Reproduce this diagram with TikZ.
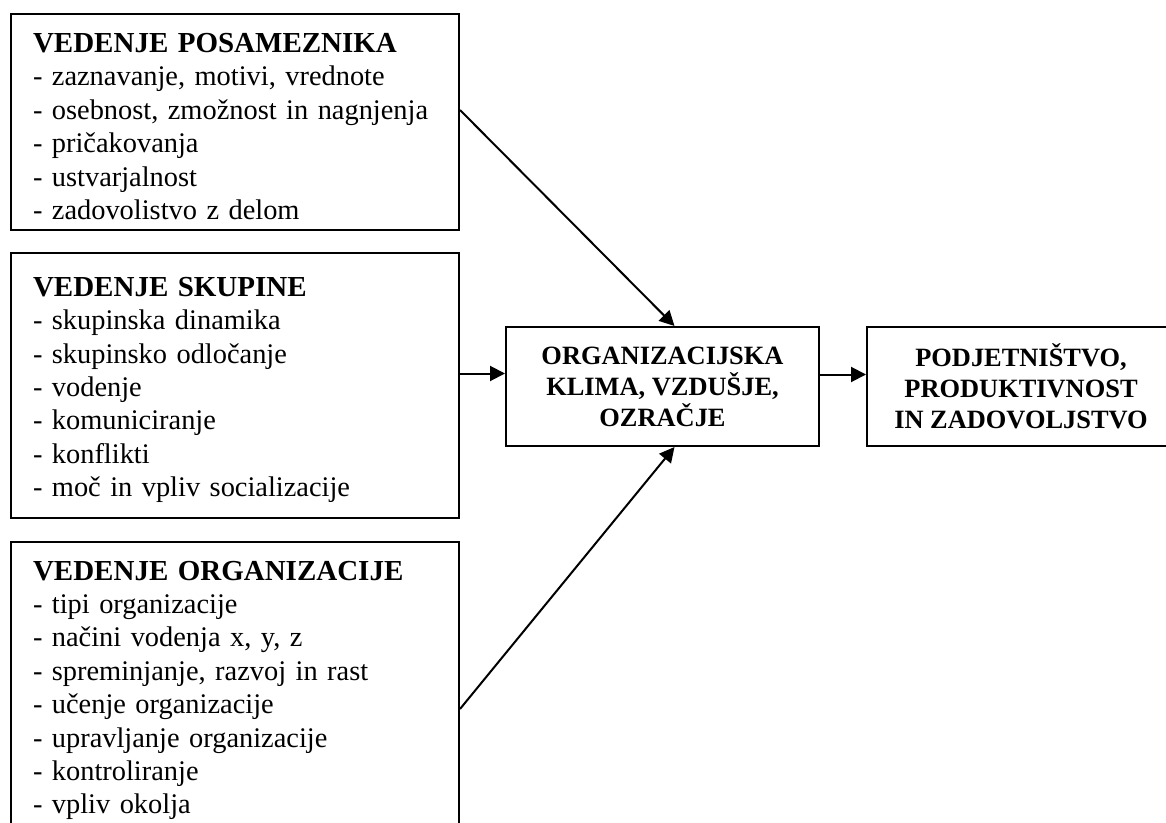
\documentclass[tikz,border=0pt]{standalone}
\usepackage{fontspec}
\setmainfont{Liberation Serif}
\usetikzlibrary{positioning, arrows.meta, calc}
\newcommand{\naslov}[1]{{\fontsize{14.5}{16.7}\selectfont\bfseries\rule{0pt}{14.1pt}#1}}

\begin{document}
\begin{tikzpicture}[x=0.5pt, y=-0.5pt,
    okvir/.style={draw, line width=1pt, anchor=north west, align=left, text width=202pt,
      inner xsep=11pt, inner ysep=0pt, font=\fontsize{14.2}{16.7}\selectfont},
    sredina/.style={draw, line width=1pt, anchor=north west, align=center, minimum height=59.5pt,
      inner sep=0pt, font=\fontsize{13.2}{15.5}\selectfont\bfseries},
    puscica/.style={-{Triangle[length=7.5pt, width=7.5pt]}, line width=1pt}]
    \useasboundingbox (0,0) rectangle (1166,823);
    \clip (0,0) rectangle (1166,823);
    % levi okvirji
    \node[okvir, minimum height=108pt] (posameznik) at (10,13) {\naslov{VEDENJE POSAMEZNIKA}\\
      - zaznavanje, motivi, vrednote\\
      - osebnost, zmožnost in nagnjenja\\
      - pričakovanja\\
      - ustvarjalnost\\
      - zadovolistvo z delom};
    \node[okvir, minimum height=132.5pt] (skupina) at (10,252) {\naslov{VEDENJE SKUPINE}\\
      - skupinska dinamika\\
      - skupinsko odločanje\\
      - vodenje\\
      - komuniciranje\\
      - konflikti\\
      - moč in vpliv socializacije};
    \node[okvir, minimum height=144pt] (organizacija) at (10,541) {\naslov{VEDENJE ORGANIZACIJE}\\
      - tipi organizacije\\
      - načini vodenja x, y, z\\
      - spreminjanje, razvoj in rast\\
      - učenje organizacije\\
      - upravljanje organizacije\\
      - kontroliranje\\
      - vpliv okolja};
    % sredina in desno
    \node[sredina, minimum width=156.5pt] (klima) at (505,326) {ORGANIZACIJSKA\\ KLIMA, VZDUŠJE,\\ OZRAČJE};
    \node[sredina, minimum width=154pt] (rezultat) at (866,326) {PODJETNIŠTVO,\\ PRODUKTIVNOST\\ IN ZADOVOLJSTVO};
    % puscice
    \draw[puscica] ([yshift=6pt]posameznik.east) -- ([xshift=6pt]klima.north);
    \draw[puscica] ([yshift=6pt]skupina.east) -- ([yshift=6pt]skupina.east -| klima.west);
    \draw[puscica] ([yshift=-11.5pt]organizacija.east) -- ([xshift=6pt]klima.south);
    \draw[puscica] ([yshift=6pt]klima.east) -- ([yshift=6pt]klima.east -| rezultat.west);
\end{tikzpicture}
\end{document}
